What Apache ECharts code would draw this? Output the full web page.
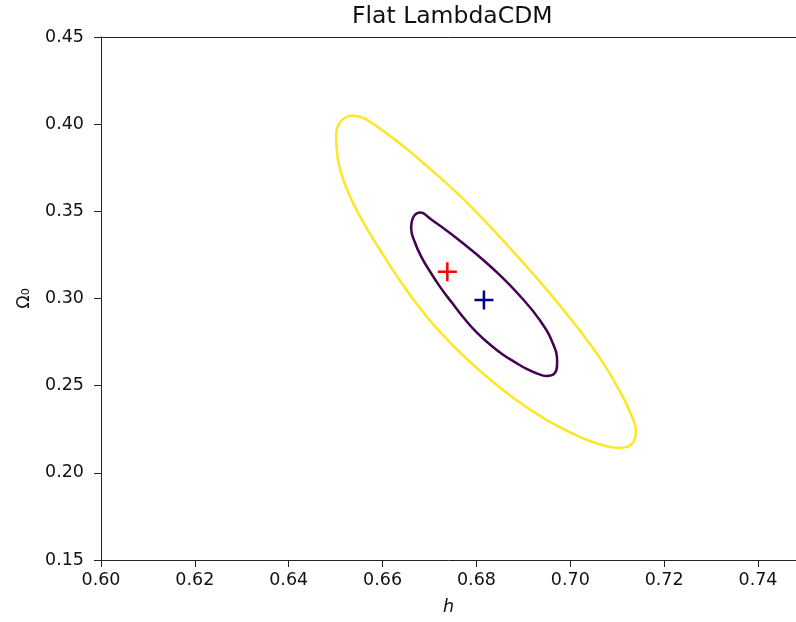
<!DOCTYPE html>
<html>
<head>
<meta charset="utf-8">
<script src="https://cdn.jsdelivr.net/npm/echarts@6/dist/echarts.min.js"></script>
<style>
  html, body { margin: 0; padding: 0; background: #fff; }
  #chart { width: 796px; height: 622px; }
</style>
</head>
<body>
<div id="chart"></div>
<script>
// axis ticks
const hTicks = [0.60, 0.62, 0.64, 0.66, 0.68, 0.70, 0.72, 0.74];
const omegaTicks = [0.15, 0.20, 0.25, 0.30, 0.35, 0.40, 0.45];
const hRange = [0.60, 0.7481];
const omegaRange = [0.15, 0.45];

// outer contour (yellow), going round clockwise
const outerH = [0.6807, 0.6856, 0.6906, 0.6955, 0.6998, 0.7041, 0.7077, 0.7110, 0.7131, 0.7140,
  0.7135, 0.7121, 0.7103, 0.7078, 0.7048, 0.7014, 0.6950, 0.6882, 0.6818, 0.6754,
  0.6696, 0.6643, 0.6603, 0.6567, 0.6535, 0.6511, 0.6502, 0.6501, 0.6508, 0.6520,
  0.6535, 0.6552, 0.6573, 0.6601, 0.6651, 0.6701, 0.6758, 0.6807];
const outerOmega = [0.3475, 0.3335, 0.3186, 0.3034, 0.2893, 0.2742, 0.2601, 0.2446, 0.2326, 0.2240,
  0.2179, 0.2149, 0.2143, 0.2152, 0.2177, 0.2214, 0.2302, 0.2423, 0.2561, 0.2720,
  0.2890, 0.3079, 0.3243, 0.3400, 0.3560, 0.3724, 0.3862, 0.3948, 0.4005, 0.4037,
  0.4048, 0.4043, 0.4014, 0.3962, 0.3859, 0.3744, 0.3607, 0.3475];

// inner contour (purple)
const innerH = [0.6799, 0.6850, 0.6892, 0.6935, 0.6963, 0.6972, 0.6966, 0.6948, 0.6931, 0.6907,
  0.6882, 0.6856, 0.6829, 0.6801, 0.6775, 0.6748, 0.6724, 0.6701, 0.6682, 0.6669,
  0.6661, 0.6666, 0.6681, 0.6701, 0.6747, 0.6799];
const innerOmega = [0.3257, 0.3134, 0.3017, 0.2876, 0.2742, 0.2635, 0.2569, 0.2556, 0.2568, 0.2596,
  0.2635, 0.2679, 0.2736, 0.2804, 0.2882, 0.2975, 0.3061, 0.3155, 0.3242, 0.3321,
  0.3402, 0.3469, 0.3493, 0.3459, 0.3369, 0.3257];

// markers
const redPoint = [0.6738, 0.3153];
const bluePoint = [0.6816, 0.2992];

const FONT = 'DejaVu Sans';
const TEXT = '#111';
const plus = 'path://M10,0L10,20M0,10L20,10';

const chart = echarts.init(document.getElementById('chart'), null, { renderer: 'canvas' });

const pairs = (xs, ys) => xs.map((x, i) => [x, ys[i]]);

const option = {
  animation: false,
  backgroundColor: '#fff',
  title: {
    text: 'Flat LambdaCDM',
    left: 352,
    top: 5,
    padding: 0,
    textStyle: { fontFamily: FONT, fontSize: 23.5, fontWeight: 'normal', color: TEXT }
  },
  grid: { left: 101, right: 0, top: 37, bottom: 62, containLabel: false },
  xAxis: [
    {
      type: 'value',
      min: hRange[0],
      max: hRange[1],
      interval: 0.02,
      name: 'h',
      nameLocation: 'middle',
      nameGap: 38,
      nameTextStyle: { fontFamily: FONT, fontSize: 17.5, fontStyle: 'italic', color: TEXT },
      axisLine: { show: true, lineStyle: { color: '#222', width: 1 } },
      axisTick: { show: true, length: 7, customValues: hTicks, lineStyle: { color: '#222', width: 1 } },
      axisLabel: {
        customValues: hTicks,
        margin: 11,
        fontFamily: FONT, fontSize: 17.5, color: TEXT,
        formatter: v => v.toFixed(2)
      },
      splitLine: { show: false }
    },
    {
      type: 'value',
      position: 'top',
      min: hRange[0],
      max: hRange[1],
      axisLine: { show: true, lineStyle: { color: '#222', width: 1 } },
      axisTick: { show: false },
      axisLabel: { show: false },
      splitLine: { show: false }
    }
  ],
  yAxis: {
    type: 'value',
    min: omegaRange[0],
    max: omegaRange[1],
    interval: 0.05,
    name: 'Ω₀',
    nameLocation: 'middle',
    nameGap: 68,
    nameTextStyle: { fontFamily: FONT, fontSize: 17.5, color: TEXT },
    axisLine: { show: true, lineStyle: { color: '#222', width: 1 } },
    axisTick: { show: true, length: 7, customValues: omegaTicks, lineStyle: { color: '#222', width: 1 } },
    axisLabel: {
      customValues: omegaTicks,
      margin: 17,
      fontFamily: FONT, fontSize: 17.5, color: TEXT,
      formatter: v => v.toFixed(2)
    },
    splitLine: { show: false }
  },
  series: [
    {
      name: 'outer',
      type: 'line',
      smooth: 0.45,
      symbol: 'none',
      lineStyle: { color: '#fde725', width: 2.5 },
      data: pairs(outerH, outerOmega)
    },
    {
      name: 'inner',
      type: 'line',
      smooth: 0.45,
      symbol: 'none',
      lineStyle: { color: '#440154', width: 2.5 },
      data: pairs(innerH, innerOmega)
    },
    {
      name: 'red',
      type: 'scatter',
      symbol: plus,
      symbolSize: 19,
      itemStyle: { color: 'transparent', borderColor: '#ff0000', borderWidth: 2.5, opacity: 1 },
      data: [redPoint]
    },
    {
      name: 'blue',
      type: 'scatter',
      symbol: plus,
      symbolSize: 19,
      itemStyle: { color: 'transparent', borderColor: '#00008b', borderWidth: 2.5, opacity: 1 },
      data: [bluePoint]
    }
  ]
};

chart.setOption(option);
window.addEventListener('resize', () => chart.resize());
</script>
</body>
</html>
